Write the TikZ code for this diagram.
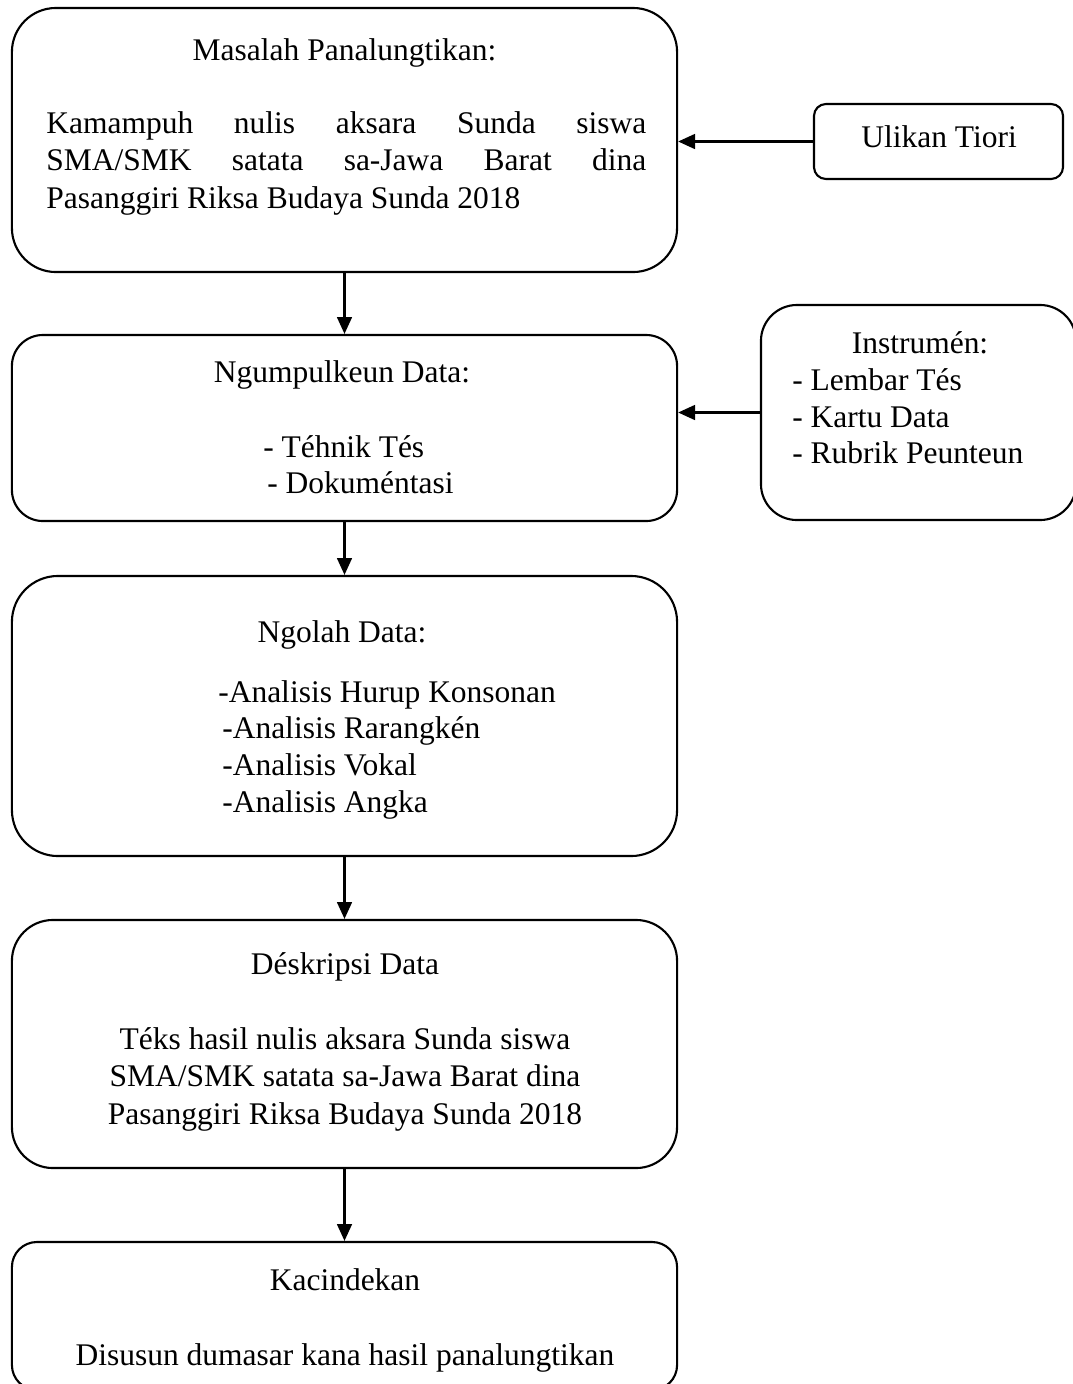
\documentclass[tikz,border=0pt]{standalone}
\usepackage{fontspec}
\setmainfont{Liberation Serif}
\usetikzlibrary{arrows.meta}
\tikzset{ blok/.style = { draw
                        , line width      = 1.5pt
                        , inner sep       = 0pt
                        , minimum width   = 16.625cm
                        , rounded corners = #1
                        },
          blok/.default = 1cm,
          teks/.style = { inner sep = 0pt
                        , anchor    = base
                        },
          panah/.style = { line width = 1.6pt
                         , -{Triangle[length=12pt, width=10.5pt]}
                         }
        }

\begin{document}
\begin{tikzpicture}[x=0.025cm, y=-0.025cm, font=\fontsize{22.4}{27}\selectfont]
    \useasboundingbox[fill=white] (0,0) rectangle (1073,1384);
    % kotak utama
    \node[blok=1.1cm,   minimum height=6.6cm]  (masalah)    at (344.5, 140) {};
    \node[blok=0.775cm, minimum height=4.65cm] (ngumpul)    at (344.5, 428) {};
    \node[blok=1.15cm,  minimum height=7cm]    (ngolah)     at (344.5, 716) {};
    \node[blok=1.025cm, minimum height=6.2cm]  (deskripsi)  at (344.5,1044) {};
    \node[blok=0.625cm, minimum height=3.7cm]  (kacindekan) at (344.5,1316) {};
    % kotak samping
    \node[blok=0.3cm, minimum width=6.225cm, minimum height=1.875cm] (ulikan)    at (938.5,141.5) {};
    \node[blok=0.9cm, minimum width=7.875cm, minimum height=5.375cm] (instrumen) at (918.5,412.5) {};

    \node[teks] (masalahJ) at (344.5,60) {Masalah Panalungtikan:};
    \node[teks, anchor=base west] (masalah1) at (46,133)
      {\makebox[15cm][s]{Kamampuh nulis aksara Sunda siswa}};
    \node[teks, anchor=base west] (masalah2) at (46,170.5)
      {\makebox[15cm][s]{SMA/SMK satata sa-Jawa Barat dina}};
    \node[teks, anchor=base west] (masalah3) at (46,208)
      {Pasanggiri Riksa Budaya Sunda 2018};

    \node[teks] (ulikanJ) at (939,147) {Ulikan Tiori};

    \node[teks] (ngumpulJ) at (342,382) {Ngumpulkeun Data:};
    \foreach \n/\x/\y/\t in {1/263/457/{- Téhnik Tés}, 2/267/493/{- Dokuméntasi}} {
      \node[teks, anchor=base west] (ngumpul\n) at (\x,\y) {\t};
    }

    \node[teks] (instrumenJ) at (920,353) {Instrumén:};
    \foreach \n/\y/\t in {1/390/{- Lembar Tés}, 2/427/{- Kartu Data},
                          3/463/{- Rubrik Peunteun}} {
      \node[teks, anchor=base west] (instrumen\n) at (792,\y) {\t};
    }

    \node[teks] (ngolahJ) at (342,642) {Ngolah Data:};
    \foreach \n/\x/\y/\t in {1/218/702/{-Analisis Hurup Konsonan},
                             2/222/738/{-Analisis Rarangkén},
                             3/222/775/{-Analisis Vokal},
                             4/222/812/{-Analisis Angka}} {
      \node[teks, anchor=base west] (ngolah\n) at (\x,\y) {\t};
    }

    \node[teks] (deskripsiJ) at (345,974) {Déskripsi Data};
    \foreach \n/\y/\t in {1/1049/{Téks hasil nulis aksara Sunda siswa},
                          2/1086/{SMA/SMK satata sa-Jawa Barat dina},
                          3/1124/{Pasanggiri Riksa Budaya Sunda 2018}} {
      \node[teks] (deskripsi\n) at (345,\y) {\t};
    }

    \node[teks] (kacindekanJ) at (345,1290) {Kacindekan};
    \node[teks] (kacindekan1) at (345,1365) {Disusun dumasar kana hasil panalungtikan};

    % panah
    \draw[panah] (masalah) -- (ngumpul);
    \draw[panah] (ngumpul) -- (ngolah);
    \draw[panah] (ngolah) -- (deskripsi);
    \draw[panah] (deskripsi) -- (kacindekan);
    \draw[panah] (ulikan) -- (ulikan -| masalah.east);
    \draw[panah] (instrumen) -- (instrumen -| ngumpul.east);
\end{tikzpicture}
\end{document}
